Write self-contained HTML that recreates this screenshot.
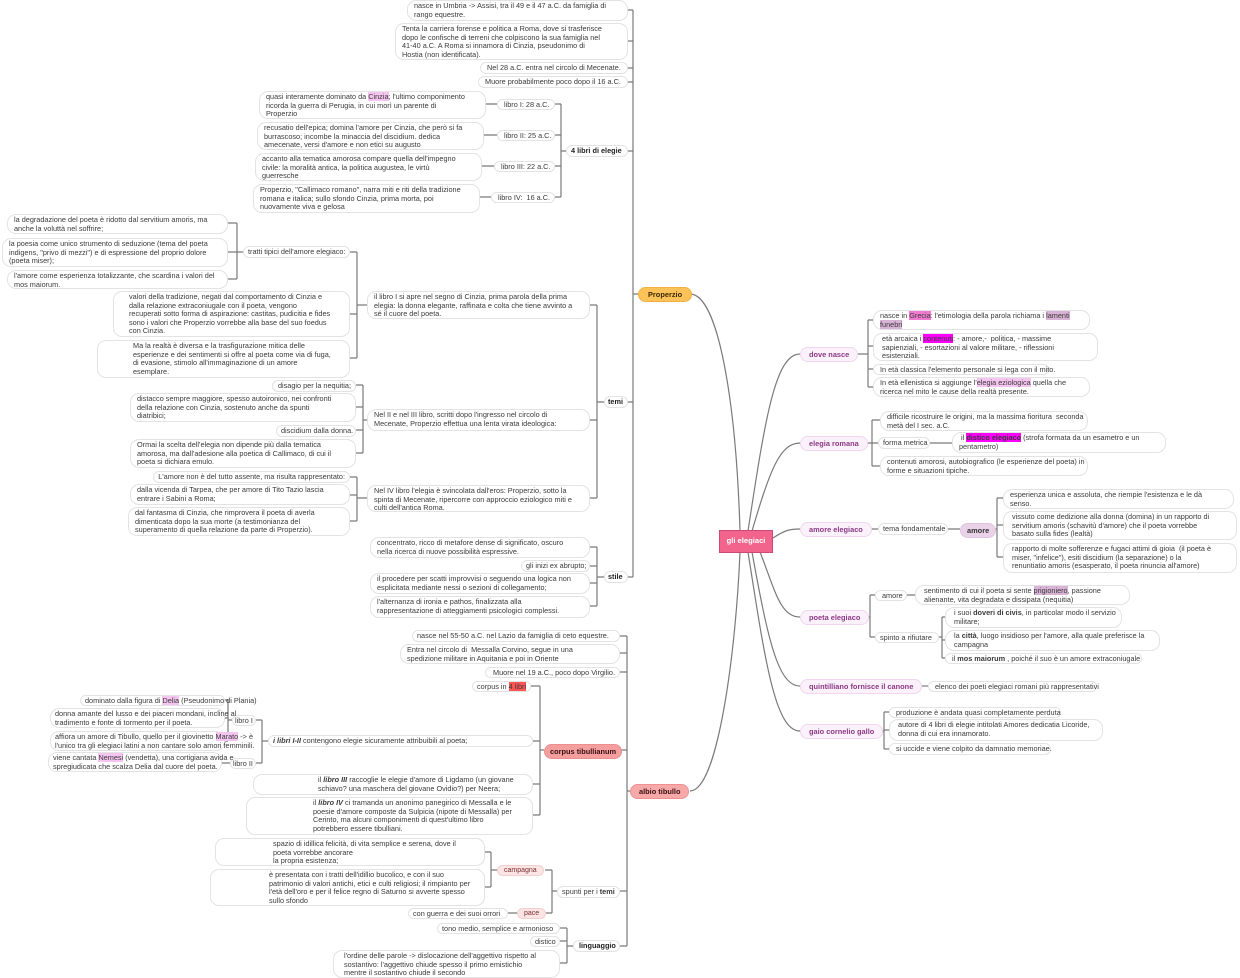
<!DOCTYPE html>
<html><head><meta charset="utf-8"><style>
body{margin:0;width:1240px;height:976px;background:#fff;position:relative;overflow:hidden;font-family:"Liberation Sans",sans-serif}
.n{position:absolute;box-sizing:border-box;border:1px solid #e3e3e3;border-radius:9px;background:#fff;font-size:7.3px;line-height:8.6px;padding:1px 6px;color:#3a3a3a;white-space:nowrap;overflow:visible}
.r{text-align:right}
.b{font-weight:bold;color:#222}
.br{position:absolute;box-sizing:border-box;border:1px solid #f0d6ef;background:#fbf1fb;border-radius:8px;font-size:7.4px;font-weight:bold;color:#8b3a84;padding:2px 8px;white-space:nowrap}
.h1{background:#f07bd0}.h2{background:#d9b3d6}.h3{background:#ff00ff}.h4{background:#f5c4f0}.h5{background:#ff5555}
svg{position:absolute;left:0;top:0}
</style></head><body>
<svg width="1240" height="976" fill="none" stroke="#7a7a7a" stroke-width="1.2">
<path d="M690 294 C718 294 736 400 740 531"/>
<path d="M690 791 C718 791 736 650 740 552"/>
<path d="M748 531 C765 420 775 354 800 354"/>
<path d="M752 531 C770 470 780 443 800 443"/>
<path d="M773 538 C785 530 790 529 800 529"/>
<path d="M760 552 C775 590 780 617 800 617"/>
<path d="M752 552 C768 640 778 686 800 686"/>
<path d="M748 552 C765 660 775 731 800 731"/>
<path d="M638 294H633M633 10V577M628 10H633M628 41H633M628 68H633M628 82H633M628 151H633M628 402H633M628 577H633"/>
<path d="M566 151H561M561 104V197M555 104H561M555 135H561M555 166H561M555 197H561M497 104H486M497 135H484M494 166H482M491 197H480"/>
<path d="M604 402H597M597 305V498M590 305H597M590 420H597M590 498H597"/>
<path d="M367 305H357M357 252V358M350 252H357M350 314H357M350 358H357"/>
<path d="M243 252H237M237 223V279M228 223H237M228 252H237M228 279H237"/>
<path d="M367 420H363M363 385V453M356 385H363M356 407H363M356 430H363M356 453H363"/>
<path d="M367 498H357M357 477V521M350 477H357M350 495H357M350 521H357"/>
<path d="M604 577H597M597 547V606M590 547H597M590 566H597M590 583H597M590 606H597"/>
<path d="M630 791H627M627 636V946M620 636H627M620 653H627M620 672H627M620 750H627M620 891H627M620 946H627"/>
<path d="M544 750H540M540 686V815M531 686H540M533 741H540M533 784H540M533 815H540"/>
<path d="M268 741H262M262 720V763M256 720H262M256 763H262"/>
<path d="M232 720H228M228 700V741M225 700H228M225 718H228M225 741H228M230 763H222"/>
<path d="M557 891H552M552 870V913M545 870H552M545 913H552"/>
<path d="M497 870H491M491 852V887M485 852H491M485 887H491M517 913H508"/>
<path d="M573 946H567M567 928V963M560 928H567M560 941H567M560 963H567"/>
<path d="M858 354H868M868 320V387M868 320H873M868 346H873M868 369H873M868 387H873"/>
<path d="M865 443H872M872 420V466M872 420H880M872 443H880M872 466H880M930 443H952"/>
<path d="M867 529H878M948 529H960M993 529H997M997 498V557M997 498H1003M997 525H1003M997 557H1003"/>
<path d="M863 617H870M870 595V637M870 595H875M870 637H875M907 595H915M939 637H942M942 617V658M942 617H945M942 640H945M942 658H945"/>
<path d="M915 686H928"/>
<path d="M877 731H884M884 712V749M884 712H889M884 730H889M884 749H889"/>
</svg>

<div style="position:absolute;left:719px;top:530px;width:54px;height:23px;box-sizing:border-box;background:#f2648b;border:1.5px solid #c84a78;color:#fff;font-weight:bold;font-size:7.6px;line-height:20px;text-align:center">gli elegiaci</div>

<div class="br" style="left:800px;top:347px">dove nasce</div>
<div class="n" style="left:873px;top:310px;width:217px;height:20px">nasce in <span class="h1">Grecia</span>: l'etimologia della parola richiama i <span class="h2">lamenti<br>funebri</span></div>
<div class="n" style="left:873px;top:333px;width:225px;height:28px">&nbsp;età arcaica i <span class="h3">contenuti</span>: - amore,-&nbsp; politica, - massime<br>&nbsp;sapienziali, - esortazioni al valore militare, - riflessioni<br>&nbsp;esistenziali.</div>
<div class="n" style="left:873px;top:364px;width:176px;height:11px">In età classica l'elemento personale si lega con il mito.</div>
<div class="n" style="left:873px;top:377px;width:217px;height:20px">In età ellenistica si aggiunge l'<span class="h4">elegia eziologica</span> quella che<br>ricerca nel mito le cause della realtà presente.</div>

<div class="br" style="left:800px;top:436px">elegia romana</div>
<div class="n" style="left:880px;top:411px;width:208px;height:20px">difficile ricostruire le origini, ma la massima fioritura&nbsp; seconda<br>metà del I sec. a.C.</div>
<div class="n" style="left:878px;top:437px;width:52px;height:12px;padding:1px 4px">forma metrica</div>
<div class="n" style="left:952px;top:432px;width:214px;height:21px">&nbsp;il <b class="h3">distico elegiaco</b> (strofa formata da un esametro e un<br>pentametro)</div>
<div class="n" style="left:880px;top:456px;width:208px;height:20px">contenuti amorosi, autobiografico (le esperienze del poeta) in<br>forme e situazioni tipiche.</div>

<div class="br" style="left:800px;top:522px">amore elegiaco</div>
<div class="n" style="left:878px;top:523px;width:70px;height:12px;padding:1px 4px">tema fondamentale</div>
<div class="br" style="left:960px;top:523px;background:#ead2e8;color:#333;border-color:#e0c4de;padding:2px 6px">amore</div>
<div class="n" style="left:1003px;top:489px;width:231px;height:20px">esperienza unica e assoluta, che riempie l'esistenza e le dà<br>senso.</div>
<div class="n" style="left:1003px;top:511px;width:234px;height:29px">&nbsp;vissuto come dedizione alla donna (domina) in un rapporto di<br>&nbsp;servitium amoris (schavitù d'amore) che il poeta vorrebbe<br>&nbsp;basato sulla fides (lealtà)</div>
<div class="n" style="left:1003px;top:543px;width:234px;height:30px">&nbsp;rapporto di molte sofferenze e fugaci attimi di gioia&nbsp; (il poeta è<br>&nbsp;miser, "infelice"), esiti discidium (la separazione) o la<br>&nbsp;renuntiatio amoris (esasperato, il poeta rinuncia all'amore)</div>

<div class="br" style="left:800px;top:610px">poeta elegiaco</div>
<div class="n" style="left:875px;top:590px;width:32px;height:11px">amore</div>
<div class="n" style="left:915px;top:585px;width:215px;height:20px">&nbsp;sentimento di cui il poeta si sente <span class="h2">prigioniero</span>, passione<br>&nbsp;alienante, vita degradata e dissipata (nequitia)</div>
<div class="n" style="left:875px;top:632px;width:64px;height:11px;padding:1px 4px">spinto a rifiutare</div>
<div class="n" style="left:945px;top:607px;width:177px;height:21px">&nbsp;i suoi <b>doveri di civis</b>, in particolar modo il servizio<br>&nbsp;militare;</div>
<div class="n" style="left:945px;top:630px;width:215px;height:21px">&nbsp;la <b>città</b>, luogo insidioso per l'amore, alla quale preferisce la<br>&nbsp;campagna</div>
<div class="n" style="left:945px;top:653px;width:197px;height:11px">il <b>mos maiorum</b> , poiché il suo è un amore extraconiugale</div>

<div class="br" style="left:800px;top:679px">quintilliano fornisce il canone</div>
<div class="n" style="left:928px;top:681px;width:169px;height:11px">elenco dei poeti elegiaci romani più rappresentativi</div>

<div class="br" style="left:800px;top:724px">gaio cornelio gallo</div>
<div class="n" style="left:889px;top:707px;width:172px;height:11px">produzione è andata quasi completamente perduta</div>
<div class="n" style="left:889px;top:719px;width:214px;height:22px">&nbsp;autore di 4 libri di elegie intitolati Amores dedicatia Licoride,<br>&nbsp;donna di cui era innamorato.</div>
<div class="n" style="left:889px;top:743px;width:162px;height:12px">si uccide e viene colpito da damnatio memoriae.</div>

<div class="br" style="left:638px;top:287px;background:#fbc25a;border-color:#f0b040;color:#3a2a00;padding:2px 9px">Properzio</div>
<div class="n" style="left:407px;top:0px;width:221px;height:21px">nasce in Umbria -&gt; Assisi, tra il 49 e il 47 a.C. da famiglia di<br>rango equestre.</div>
<div class="n" style="left:395px;top:23px;width:233px;height:37px">Tenta la carriera forense e politica a Roma, dove si trasferisce<br>dopo le confische di terreni che colpiscono la sua famiglia nel<br>41-40 a.C. A Roma si innamora di Cinzia, pseudonimo di<br>Hostia (non identificata).</div>
<div class="n" style="left:480px;top:62px;width:148px;height:12px">Nel 28 a.C. entra nel circolo di Mecenate.</div>
<div class="n" style="left:478px;top:76px;width:150px;height:12px">Muore probabilmente poco dopo il 16 a.C.</div>
<div class="n b" style="left:566px;top:145px;width:62px;height:12px;padding:1px 4px">4 libri di elegie</div>
<div class="n" style="left:497px;top:99px;width:58px;height:11px">libro I: 28 a.C.</div>
<div class="n" style="left:497px;top:130px;width:58px;height:11px">libro II: 25 a.C.</div>
<div class="n" style="left:494px;top:161px;width:61px;height:11px">libro III: 22 a.C.</div>
<div class="n" style="left:491px;top:192px;width:64px;height:11px">libro IV:&nbsp; 16 a.C.</div>
<div class="n" style="left:259px;top:91px;width:227px;height:28px">quasi interamente dominato da <span class="h4">Cinzia</span>; l'ultimo componimento<br>ricorda la guerra di Perugia, in cui morì un parente di<br>Properzio</div>
<div class="n" style="left:257px;top:122px;width:227px;height:28px">recusatio dell'epica; domina l'amore per Cinzia, che però si fa<br>burrascoso; incombe la minaccia del discidium. dedica<br>amecenate, versi d'amore e non etici su augusto</div>
<div class="n" style="left:255px;top:153px;width:227px;height:28px">accanto alla tematica amorosa compare quella dell'impegno<br>civile: la moralità antica, la politica augustea, le virtù<br>guerresche</div>
<div class="n" style="left:253px;top:184px;width:227px;height:29px">Properzio, "Callimaco romano", narra miti e riti della tradizione<br>romana e italica; sullo sfondo Cinzia, prima morta, poi<br>nuovamente viva e gelosa</div>

<div class="n b" style="left:604px;top:396px;width:24px;height:12px;padding:1px 3px">temi</div>
<div class="n" style="left:367px;top:291px;width:223px;height:28px">il libro I si apre nel segno di Cinzia, prima parola della prima<br>elegia: la donna elegante, raffinata e colta che tiene avvinto a<br>sé il cuore del poeta.</div>
<div class="n" style="left:243px;top:246px;width:107px;height:12px;padding:1px 4px">tratti tipici dell'amore elegiaco:</div>
<div class="n" style="left:7px;top:214px;width:221px;height:20px">la degradazione del poeta è ridotto dal servitium amoris, ma<br>anche la voluttà nel soffrire;</div>
<div class="n" style="left:2px;top:238px;width:226px;height:29px">la poesia come unico strumento di seduzione (tema del poeta<br>indigens, "privo di mezzi") e di espressione del proprio dolore<br>(poeta miser);</div>
<div class="n" style="left:7px;top:270px;width:221px;height:19px">l'amore come esperienza totalizzante, che scardina i valori del<br>mos maiorum.</div>
<div class="n" style="left:113px;top:291px;width:237px;height:46px;padding-left:15px">valori della tradizione, negati dal comportamento di Cinzia e<br>dalla relazione extraconiugale con il poeta, vengono<br>recuperati sotto forma di aspirazione: castitas, pudicitia e fides<br>sono i valori che Properzio vorrebbe alla base del suo foedus<br>con Cinzia.</div>
<div class="n" style="left:97px;top:340px;width:253px;height:38px;padding-left:35px">Ma la realtà è diversa e la trasfigurazione mitica delle<br>esperienze e dei sentimenti si offre al poeta come via di fuga,<br>di evasione, stimolo all'immaginazione di un amore<br>esemplare.</div>
<div class="n" style="left:367px;top:409px;width:223px;height:22px">Nel II e nel III libro, scritti dopo l'ingresso nel circolo di<br>Mecenate, Properzio effettua una lenta virata ideologica:</div>
<div class="n r" style="left:272px;top:380px;width:84px;height:12px;padding:1px 4px">disagio per la nequitia;</div>
<div class="n" style="left:130px;top:393px;width:226px;height:29px">distacco sempre maggiore, spesso autoironico, nei confronti<br>della relazione con Cinzia, sostenuto anche da spunti<br>diatribici;</div>
<div class="n r" style="left:276px;top:425px;width:80px;height:12px;padding:1px 4px">discidium dalla donna.</div>
<div class="n" style="left:130px;top:439px;width:226px;height:29px">Ormai la scelta dell'elegia non dipende più dalla tematica<br>amorosa, ma dall'adesione alla poetica di Callimaco, di cui il<br>poeta si dichiara emulo.</div>
<div class="n" style="left:367px;top:485px;width:223px;height:27px">Nel IV libro l'elegia è svincolata dall'eros: Properzio, sotto la<br>spinta di Mecenate, ripercorre con approccio eziologico miti e<br>culti dell'antica Roma.</div>
<div class="n r" style="left:153px;top:471px;width:197px;height:12px;padding:1px 4px">L'amore non è del tutto assente, ma risulta rappresentato:</div>
<div class="n" style="left:130px;top:484px;width:220px;height:21px">dalla vicenda di Tarpea, che per amore di Tito Tazio lascia<br>entrare i Sabini a Roma;</div>
<div class="n" style="left:128px;top:507px;width:222px;height:29px">dal fantasma di Cinzia, che rimprovera il poeta di averla<br>dimenticata dopo la sua morte (a testimonianza del<br>superamento di quella relazione da parte di Properzio).</div>

<div class="n b" style="left:604px;top:571px;width:24px;height:12px;padding:1px 3px">stile</div>
<div class="n" style="left:370px;top:537px;width:220px;height:21px">concentrato, ricco di metafore dense di significato, oscuro<br>nella ricerca di nuove possibilità espressive.</div>
<div class="n r" style="left:521px;top:560px;width:69px;height:12px;padding:1px 4px">gli inizi ex abrupto;</div>
<div class="n" style="left:370px;top:573px;width:220px;height:21px">il procedere per scatti improvvisi o seguendo una logica non<br>esplicitata mediante nessi o sezioni di collegamento;</div>
<div class="n" style="left:370px;top:596px;width:220px;height:22px">l'alternanza di ironia e pathos, finalizzata alla<br>rappresentazione di atteggiamenti psicologici complessi.</div>

<div class="br" style="left:630px;top:784px;background:#f7a9a9;border-color:#f09090;color:#3a1010;padding:2px 8px">albio tibullo</div>
<div class="n" style="left:412px;top:630px;width:208px;height:12px;padding:1px 4px">nasce nel 55-50 a.C. nel Lazio da famiglia di ceto equestre.</div>
<div class="n" style="left:400px;top:644px;width:220px;height:20px">Entra nel circolo di&nbsp; Messalla Corvino, segue in una<br>spedizione militare in Aquitania e poi in Oriente</div>
<div class="n r" style="left:485px;top:667px;width:135px;height:11px;padding:1px 4px">Muore nel 19 a.C., poco dopo Virgilio.</div>
<div class="br" style="left:544px;top:744px;background:#f49e9e;border-color:#eb8f8f;color:#3a1010;padding:2px 5px">corpus tibullianum</div>
<div class="n" style="left:472px;top:681px;width:59px;height:11px;padding:1px 4px">corpus in <span class="h5">4 libri</span></div>
<div class="n" style="left:268px;top:735px;width:265px;height:12px;padding:1px 4px"><b><i>i libri I-II</i></b> contengono elegie sicuramente attribuibili al poeta;</div>
<div class="n" style="left:253px;top:774px;width:280px;height:21px;padding-left:64px">il <b><i>libro III</i></b> raccoglie le elegie d'amore di Ligdamo (un giovane<br>schiavo? una maschera del giovane Ovidio?) per Neera;</div>
<div class="n" style="left:246px;top:797px;width:287px;height:38px;padding-left:66px">il <b><i>libro IV</i></b> ci tramanda un anonimo panegirico di Messalla e le<br>poesie d'amore composte da Sulpicia (nipote di Messalla) per<br>Cerinto, ma alcuni componimenti di quest'ultimo libro<br>potrebbero essere tibulliani.</div>
<div class="n" style="left:232px;top:715px;width:24px;height:11px;padding:1px 2px">libro I</div>
<div class="n" style="left:230px;top:758px;width:26px;height:11px;padding:1px 2px">libro II</div>
<div class="n" style="left:80px;top:695px;width:145px;height:11px;padding:1px 4px">dominato dalla figura di <span class="h4">Delia</span> (Pseudonimo di Plania)</div>
<div class="n" style="left:50px;top:708px;width:175px;height:20px;padding:1px 4px">donna amante del lusso e dei piaceri mondani, incline al<br>tradimento e fonte di tormento per il poeta.</div>
<div class="n" style="left:50px;top:731px;width:175px;height:20px;padding:1px 4px">affiora un amore di Tibullo, quello per il giovinetto <span class="h4">Marato</span> -&gt; è<br>l'unico tra gli elegiaci latini a non cantare solo amori femminili.</div>
<div class="n" style="left:48px;top:752px;width:174px;height:20px;padding:1px 4px">viene cantata <span class="h4">Nemesi</span> (vendetta), una cortigiana avida e<br>spregiudicata che scalza Delia dal cuore del poeta.</div>

<div class="n" style="left:557px;top:886px;width:63px;height:12px;padding:1px 4px">spunti per i <b>temi</b></div>
<div class="br" style="left:497px;top:865px;background:#fbe4e4;border-color:#f3d0d0;color:#7a3030;font-weight:normal;font-size:7px;padding:1px 6px">campagna</div>
<div class="br" style="left:517px;top:908px;background:#fbe4e4;border-color:#f3d0d0;color:#7a3030;font-weight:normal;font-size:7px;padding:1px 6px">pace</div>
<div class="n" style="left:215px;top:838px;width:270px;height:28px;padding-left:57px">spazio di idillica felicità, di vita semplice e serena, dove il<br>poeta vorrebbe ancorare<br>la propria esistenza;</div>
<div class="n" style="left:210px;top:869px;width:275px;height:37px;padding-left:58px">è presentata con i tratti dell'idillio bucolico, e con il suo<br>patrimonio di valori antichi, etici e culti religiosi; il rimpianto per<br>l'età dell'oro e per il felice regno di Saturno si avverte spesso<br>sullo sfondo</div>
<div class="n" style="left:408px;top:908px;width:100px;height:11px;padding:1px 4px">con guerra e dei suoi orrori</div>
<div class="n b" style="left:573px;top:940px;width:47px;height:12px;padding:1px 5px">linguaggio</div>
<div class="n" style="left:437px;top:923px;width:123px;height:11px;padding:1px 4px">tono medio, semplice e armonioso</div>
<div class="n" style="left:530px;top:936px;width:30px;height:11px;padding:1px 4px">distico</div>
<div class="n" style="left:333px;top:950px;width:227px;height:28px;padding-left:10px">l'ordine delle parole -&gt; dislocazione dell'aggettivo rispetto al<br>sostantivo: l'aggettivo chiude spesso il primo emistichio<br>mentre il sostantivo chiude il secondo</div>
</body></html>
